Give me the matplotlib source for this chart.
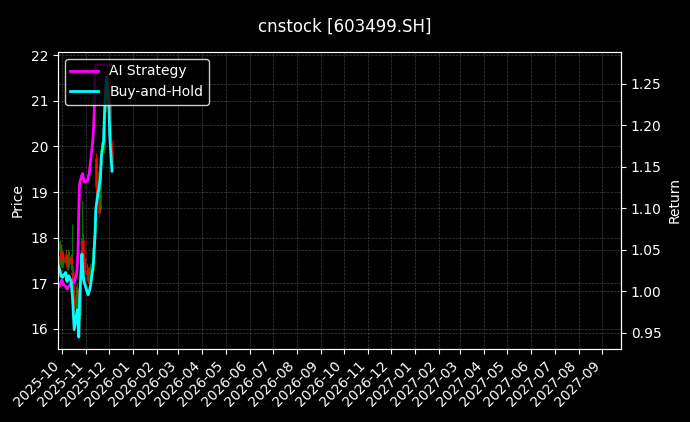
#!/usr/bin/env python3
"""Candlestick price chart with AI strategy vs buy-and-hold return curves."""

import matplotlib
matplotlib.use("Agg")

import matplotlib.dates as mdates
import matplotlib.pyplot as plt
import numpy as np
import pandas as pd


TITLE = "cnstock [603499.SH]"

# trading days shown on the chart
dates = pd.bdate_range("2025-09-26", "2025-12-05")

open_ = [17.90, 17.45, 17.70, 17.45, 17.60, 17.45, 17.50, 17.65, 17.50, 17.35,
         17.45, 17.60, 17.20, 17.25, 17.05, 16.70, 16.45, 16.75, 16.85, 16.50,
         16.30, 17.10, 17.95, 17.70, 17.55, 17.40, 17.30, 17.20, 17.10, 17.20,
         17.25, 17.30, 17.65, 17.85, 18.10, 19.75, 19.00, 18.90, 18.60, 19.45,
         19.60, 19.95, 20.35, 21.20, 20.85, 21.40, 21.50, 20.95, 20.40, 20.15,
         19.90]
high = [18.00, 17.95, 17.85, 17.70, 17.70, 17.65, 17.75, 17.70, 17.60, 17.75,
        17.70, 17.65, 18.30, 17.40, 17.15, 16.85, 16.95, 17.00, 16.90, 16.60,
        17.20, 18.80, 18.10, 17.85, 17.60, 17.55, 17.45, 17.35, 17.35, 17.40,
        17.45, 17.75, 17.95, 18.25, 18.60, 19.85, 19.45, 19.00, 19.60, 19.75,
        20.10, 20.45, 20.85, 21.30, 21.55, 21.77, 21.60, 21.10, 20.55, 20.30,
        20.05]
low = [17.45, 17.40, 17.35, 17.35, 17.35, 17.35, 17.40, 17.35, 17.30, 17.30,
       17.35, 17.30, 17.10, 16.95, 16.65, 16.35, 16.40, 16.60, 16.45, 15.86,
       16.25, 17.05, 17.55, 17.35, 17.20, 17.20, 17.05, 17.00, 17.05, 17.10,
       17.15, 17.25, 17.55, 17.75, 18.00, 18.85, 18.90, 18.45, 18.55, 19.30,
       19.50, 19.85, 20.25, 20.10, 20.75, 21.20, 20.85, 20.30, 20.00, 19.80,
       19.55]
close = [17.75, 17.60, 17.50, 17.55, 17.48, 17.52, 17.60, 17.45, 17.40, 17.50,
         17.55, 17.42, 17.25, 17.05, 16.75, 16.45, 16.75, 16.85, 16.55, 16.30,
         17.05, 18.00, 17.70, 17.50, 17.40, 17.35, 17.20, 17.15, 17.20, 17.25,
         17.30, 17.65, 17.80, 18.05, 18.40, 19.10, 19.25, 18.55, 19.45, 19.55,
         19.95, 20.30, 20.75, 20.80, 21.45, 21.55, 21.00, 20.40, 20.15, 19.90,
         19.65]

ai_return = [1.004, 1.008, 1.012, 1.014, 1.012, 1.008, 1.006, 1.004, 1.003, 1.004,
             1.006, 1.010, 1.014, 1.012, 1.010, 1.012, 1.020, 1.030, 1.050, 1.100,
             1.130, 1.140, 1.142, 1.136, 1.132, 1.132, 1.133, 1.136, 1.140, 1.146,
             1.155, 1.180, 1.195, 1.215, 1.265, 1.273, 1.273, 1.273, 1.273, 1.273,
             1.273, 1.273, 1.273, 1.273, 1.273, 1.273, 1.273, 1.273, 1.273, 1.273,
             1.273]
bh_return = [1.033, 1.024, 1.018, 1.019, 1.017, 1.019, 1.023, 1.014, 1.012, 1.017,
             1.019, 1.012, 1.002, 0.990, 0.972, 0.954, 0.972, 0.978, 0.960, 0.945,
             0.990, 1.045, 1.029, 1.017, 1.011, 1.008, 0.999, 0.996, 0.999, 1.002,
             1.006, 1.027, 1.036, 1.051, 1.069, 1.099, 1.120, 1.123, 1.131, 1.137,
             1.161, 1.181, 1.207, 1.231, 1.249, 1.258, 1.225, 1.189, 1.173, 1.159,
             1.145]

XLIM = ("2025-09-26", "2027-09-25")


def main() -> None:
    plt.style.use("dark_background")
    fig = plt.figure(figsize=(6.9, 4.22), dpi=100)
    ax = fig.add_axes([0.084, 0.173, 0.816, 0.704])
    ax2 = ax.twinx()

    # candles
    o = np.array(open_)
    c = np.array(close)
    colors = np.where(c >= o, "green", "red")
    ax.vlines(dates, low, high, colors=colors, linewidth=0.8, alpha=0.9)
    ax.vlines(dates, np.minimum(o, c), np.maximum(o, c), colors=colors, linewidth=2.0, alpha=0.9)

    ax2.plot(dates, ai_return, color="magenta", linewidth=2, label="AI Strategy")
    ax2.plot(dates, bh_return, color="cyan", linewidth=2, label="Buy-and-Hold")

    ax.set_ylim(15.56, 22.07)
    ax2.set_ylim(0.9307, 1.2886)
    ax.set_xlim(pd.Timestamp(XLIM[0]), pd.Timestamp(XLIM[1]))

    ax.xaxis.set_major_locator(mdates.MonthLocator())
    ax.xaxis.set_major_formatter(mdates.DateFormatter("%Y-%m"))
    plt.setp(ax.get_xticklabels(), rotation=45, ha="right")

    ax.set_ylabel("Price")
    ax2.set_ylabel("Return")

    ax.grid(True, linestyle="--", linewidth=0.5, color="gray", alpha=0.5)
    ax2.grid(True, axis="y", linestyle="--", linewidth=0.5, color="gray", alpha=0.5)

    ax2.legend(loc="upper left", facecolor="black", edgecolor="white", framealpha=0.8)
    fig.suptitle(TITLE, fontsize=12, y=0.957)

    fig.savefig("out.png", dpi=100, facecolor="black")
    plt.close(fig)


if __name__ == "__main__":
    main()
